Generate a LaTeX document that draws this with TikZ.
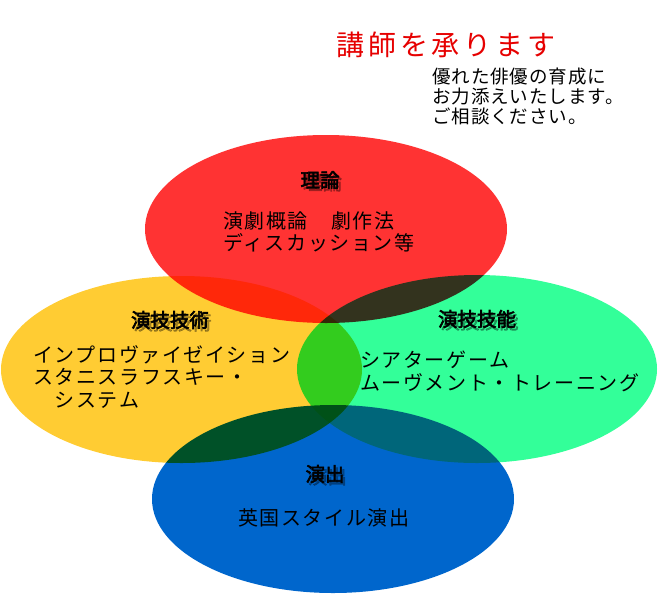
\documentclass[tikz,border=0pt]{standalone}
\usepackage{fontspec}
\newfontfamily\jp{Noto Sans CJK JP}
\newfontfamily\jpsp{Noto Sans CJK JP}[LetterSpace=8]
\newfontfamily\jphead{Noto Sans CJK JP}[LetterSpace=14]
\newfontfamily\jpsub{Noto Sans CJK JP}[LetterSpace=5]
\newfontfamily\jpb{Noto Sans CJK JP}[FakeBold=3]
\definecolor{redc}{RGB}{255,51,51}
\definecolor{yelc}{RGB}{255,204,51}
\definecolor{grnc}{RGB}{51,255,153}
\definecolor{bluc}{RGB}{0,102,204}
\definecolor{headred}{RGB}{230,0,0}
\tikzset{
  title/.style={font=\jpb\fontsize{19.5}{19.5}\selectfont, text=black, inner sep=0pt},
  tshadow/.style={font=\jpb\fontsize{19.5}{19.5}\selectfont, text=black, text opacity=0.3, inner sep=0pt},
  body/.style={font=\jpsp\fontsize{20}{22.5}\selectfont, align=left, anchor=north west, inner sep=0pt},
}
\begin{document}
\begin{tikzpicture}[x=1pt,y=-1pt]
\useasboundingbox (0,0) rectangle (660,600);
\begin{scope}[blend group=multiply]
  \fill[redc] (326,229) ellipse [x radius=181, y radius=94];
  \fill[yelc] (181.5,369.5) ellipse [x radius=180.5, y radius=93.5];
  \fill[grnc] (477,369) ellipse [x radius=180, y radius=94];
  \fill[bluc] (333,499) ellipse [x radius=181, y radius=94];
\end{scope}
% header
\node[font=\jphead\fontsize{28}{28}\selectfont, text=headred, inner sep=0pt, anchor=west] (head) at (336,45) {講師を承ります};
\node[font=\jpsub\fontsize{18.5}{20}\selectfont, align=left, anchor=north west, inner sep=0pt] (sub) at (432,68) {優れた俳優の育成に\\お力添えいたします。\\ご相談ください。};
% titles with shadows
\node[tshadow] (t1s) at (322.5,182.5) {理論};
\node[title] (t1) at (320,180) {理論};
\node[tshadow] (t2s) at (172.5,322.5) {演技技術};
\node[title] (t2) at (170,320) {演技技術};
\node[tshadow] (t3s) at (479.5,321.5) {演技技能};
\node[title] (t3) at (477,319) {演技技能};
\node[tshadow] (t4s) at (327.5,476.5) {演出};
\node[title] (t4) at (325,474) {演出};
% bodies
\node[body] (b1) at (223,211) {演劇概論　劇作法\\ディスカッション等};
\node[body] (b2) at (33,345) {インプロヴァイゼイション\\スタニスラフスキー・\\　システム};
\node[body] (b3) at (360,351) {シアターゲーム\\ムーヴメント・トレーニング};
\node[body] (b4) at (238,508) {英国スタイル演出};
\end{tikzpicture}
\end{document}
